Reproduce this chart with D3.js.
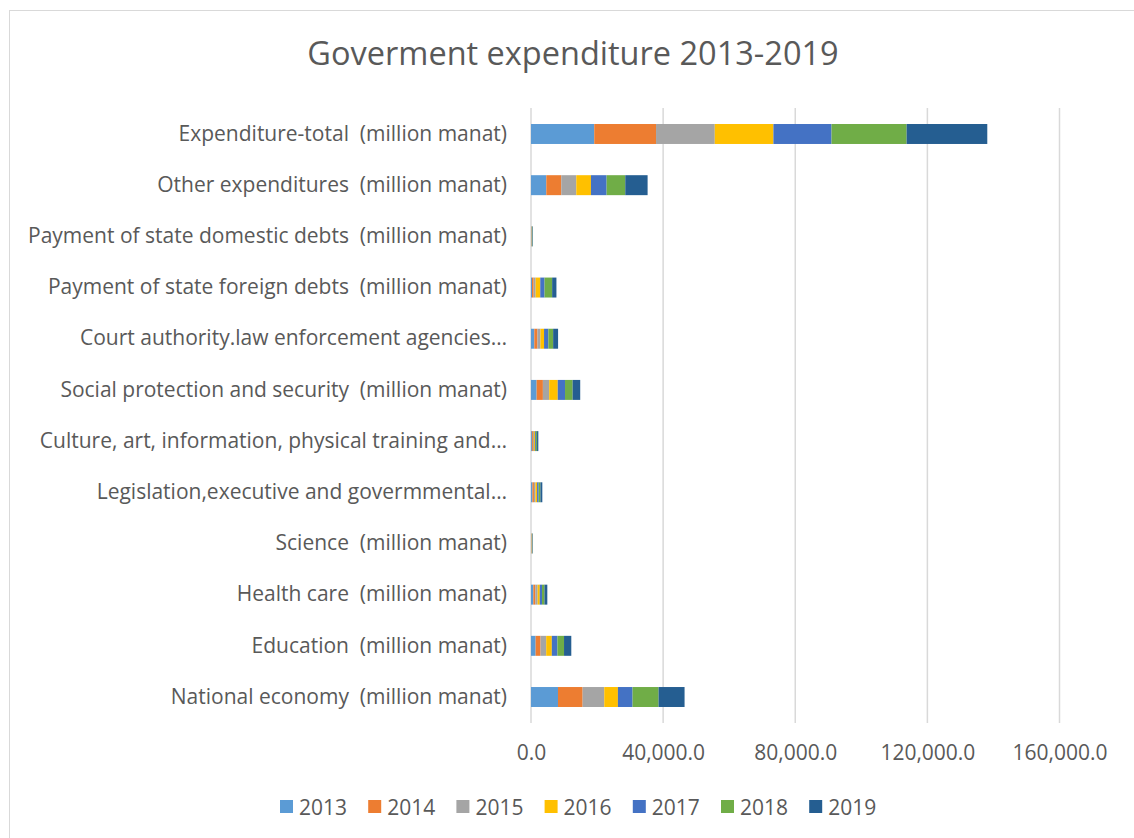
<!DOCTYPE html>
<html>
<head>
<meta charset="utf-8">
<script src="https://cdn.jsdelivr.net/npm/d3@7"></script>
<style>
  html, body { margin: 0; padding: 0; background: #fff; }
  svg { display: block; font-family: "Open Sans", "Noto Sans", sans-serif; }
</style>
</head>
<body>
<svg id="chart" width="1134" height="838"></svg>
<script>
// Categories, listed from the bottom bar upwards
const categories = [
  "National economy  (million manat)",
  "Education  (million manat)",
  "Health care  (million manat)",
  "Science  (million manat)",
  "Legislation,executive and govermmental…",
  "Culture, art, information, physical training and…",
  "Social protection and security  (million manat)",
  "Court authority.law enforcement agencies…",
  "Payment of state foreign debts  (million manat)",
  "Payment of state domestic debts  (million manat)",
  "Other expenditures  (million manat)",
  "Expenditure-total  (million manat)"
];

const years = ["2013", "2014", "2015", "2016", "2017", "2018", "2019"];

// Expenditure by year, million manat, in the same order as categories
const v2013 = [8170, 1400, 700, 80, 430, 280, 1700, 1000, 300, 50, 4630, 19143.5];
const v2014 = [7460, 1500, 600, 85, 460, 300, 1900, 950, 500, 60, 4540, 18709.0];
const v2015 = [6550, 1700, 700, 85, 480, 310, 1900, 900, 600, 60, 4540, 17784.5];
const v2016 = [4130, 1700, 650, 80, 470, 300, 2600, 1100, 1400, 80, 4440, 17751.3];
const v2017 = [4440, 1700, 680, 85, 480, 290, 2200, 1300, 1300, 100, 4740, 17594.5];
const v2018 = [7870, 2000, 740, 90, 530, 350, 2300, 1450, 2300, 120, 5650, 22731.6];
const v2019 = [7870, 2200, 870, 100, 580, 390, 2300, 1500, 1300, 130, 6760, 24423.5];

const xTicks = [0, 40000, 80000, 120000, 160000];
const colors = ["#5B9BD5", "#ED7D31", "#A5A5A5", "#FFC000", "#4472C4", "#70AD47", "#255E91"];

const seriesValues = [v2013, v2014, v2015, v2016, v2017, v2018, v2019];
const rows = categories.map((c, i) => {
  const r = { category: c };
  years.forEach((y, k) => { r[y] = seriesValues[k][i]; });
  return r;
});

const svg = d3.select("#chart");
const textColor = "#595959";

// chart frame
svg.append("rect")
  .attr("x", 9.5).attr("y", 10.5)
  .attr("width", 1140).attr("height", 840)
  .attr("fill", "#fff").attr("stroke", "#d9d9d9").attr("stroke-width", 1);

// title
svg.append("text")
  .attr("x", 573).attr("y", 65)
  .attr("text-anchor", "middle")
  .attr("font-size", 32.5)
  .attr("fill", textColor)
  .text("Goverment expenditure 2013-2019");

const x = d3.scaleLinear().domain([0, 160000]).range([531, 1059.5]);
const y = d3.scaleBand()
  .domain(categories.slice().reverse())
  .range([108.4, 722.6])
  .paddingInner(0.61)
  .paddingOuter(0.305);

// vertical gridlines
svg.append("g")
  .selectAll("line")
  .data(xTicks)
  .join("line")
  .attr("x1", d => x(d)).attr("x2", d => x(d))
  .attr("y1", 108).attr("y2", 723)
  .attr("stroke", "#d9d9d9").attr("stroke-width", 1.5);

// stacked bars
const stack = d3.stack().keys(years);
const layers = stack(rows);

svg.append("g")
  .selectAll("g")
  .data(layers)
  .join("g")
  .attr("fill", (d, i) => colors[i])
  .selectAll("rect")
  .data(d => d)
  .join("rect")
  .attr("x", d => x(d[0]))
  .attr("y", d => y(d.data.category))
  .attr("width", d => x(d[1]) - x(d[0]))
  .attr("height", y.bandwidth());

// x axis labels
const xAxis = d3.axisBottom(x)
  .tickValues(xTicks)
  .tickFormat(d3.format(",.1f"))
  .tickSize(0)
  .tickPadding(0);

const gx = svg.append("g")
  .attr("transform", "translate(0,745)")
  .call(xAxis);
gx.select(".domain").remove();
gx.selectAll("text")
  .attr("font-family", "'Open Sans', 'Noto Sans', sans-serif")
  .attr("font-size", 21)
  .attr("fill", textColor);

// category labels
const yAxis = d3.axisLeft(y).tickSize(0).tickPadding(0);
const gy = svg.append("g")
  .attr("transform", "translate(507,0)")
  .call(yAxis);
gy.select(".domain").remove();
gy.selectAll("text")
  .attr("font-family", "'Open Sans', 'Noto Sans', sans-serif")
  .attr("font-size", 21)
  .attr("fill", textColor)
  .style("white-space", "pre");

// legend
const legend = svg.append("g")
  .selectAll("g")
  .data(years)
  .join("g")
  .attr("transform", (d, i) => `translate(${280 + i * 88.2},800)`);
legend.append("rect")
  .attr("width", 13).attr("height", 13)
  .attr("fill", (d, i) => colors[i]);
legend.append("text")
  .attr("x", 19).attr("y", 15)
  .attr("font-size", 21)
  .attr("fill", textColor)
  .text(d => d);
</script>
</body>
</html>
